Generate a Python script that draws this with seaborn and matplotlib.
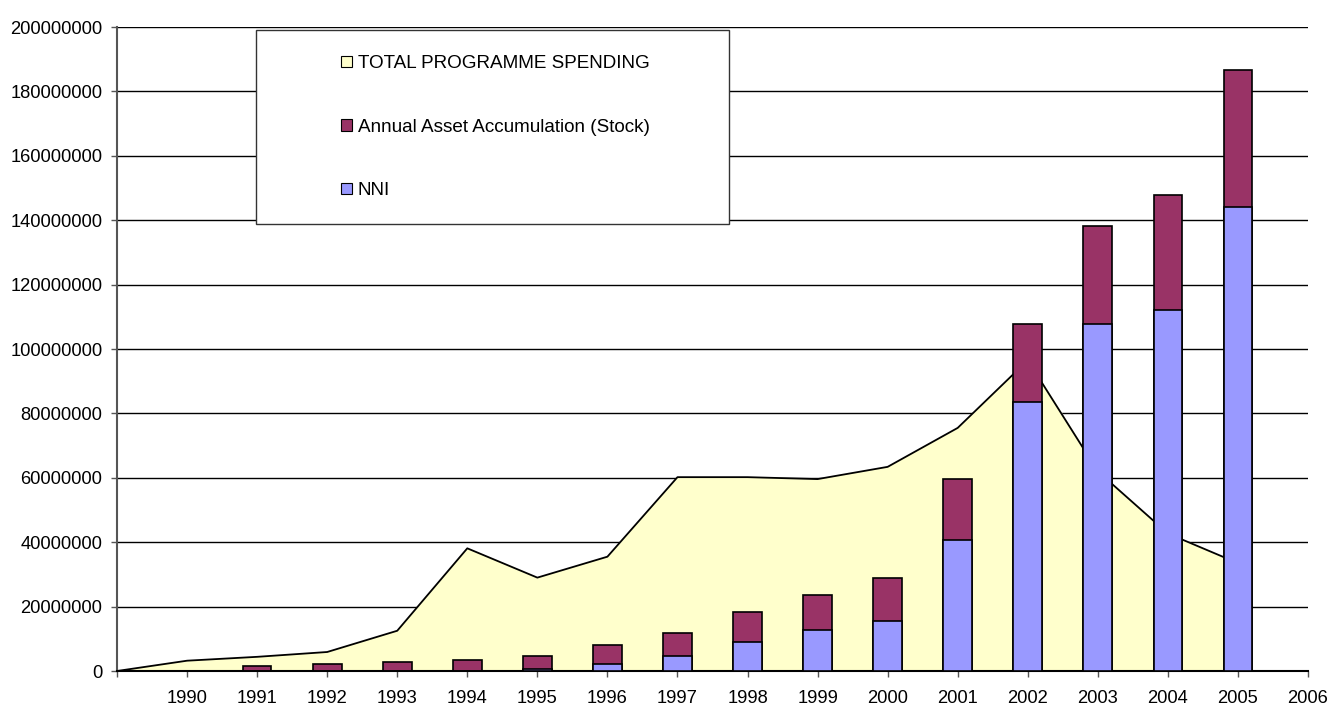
import numpy as np
import pandas as pd
import matplotlib
matplotlib.use("Agg")
import matplotlib.pyplot as plt
from matplotlib.patches import Rectangle, Patch
import seaborn as sns

# values
area_years = [1989, 1990, 1991, 1992, 1993, 1994, 1995, 1996, 1997,
              1998, 1999, 2000, 2001, 2002, 2003, 2004, 2005]
total_spending = [0, 3.2e6, 4.4e6, 5.9e6, 12.5e6, 38.1e6, 29.0e6, 35.5e6, 60.2e6,
                  60.2e6, 59.6e6, 63.4e6, 75.5e6, 96.5e6, 62.0e6, 42.7e6, 33.5e6]

bar_years = [1990, 1991, 1992, 1993, 1994, 1995, 1996, 1997,
             1998, 1999, 2000, 2001, 2002, 2003, 2004, 2005]
nni = [0, 0, 0, 0, 0, 0.6e6, 2.1e6, 4.8e6,
       9.0e6, 12.8e6, 15.6e6, 40.7e6, 83.6e6, 107.8e6, 112.0e6, 144.2e6]
stock = [0, 1.6e6, 2.3e6, 2.8e6, 3.3e6, 4.2e6, 6.0e6, 7.0e6,
         9.3e6, 10.9e6, 13.4e6, 18.9e6, 24.2e6, 30.5e6, 35.9e6, 42.4e6]

tick_years = list(range(1989, 2007))

yellow = "#FFFFCC"
maroon = "#993366"
blue = "#9999FF"

bars = pd.DataFrame({"year": bar_years, "NNI": nni, "Stock": stock})
bars["top"] = bars["NNI"] + bars["Stock"]

sns.set_style("white")
plt.rcParams["font.family"] = ["Liberation Sans", "DejaVu Sans"]
plt.rcParams["text.color"] = "black"
plt.rcParams["xtick.color"] = "black"
plt.rcParams["ytick.color"] = "black"

fig = plt.figure(figsize=(13.32, 7.10), dpi=100)
ax = fig.add_axes([117 / 1332, 1 - 671 / 710, (1308 - 117) / 1332, (671 - 27) / 710])

# gridlines behind everything
ax.set_axisbelow(True)
ax.yaxis.grid(True, color="black", linewidth=1.0)

# programme spending area
ax.fill_between(area_years, total_spending, color=yellow, zorder=1)
sns.lineplot(x=area_years, y=total_spending, color="black", linewidth=1.3,
             ax=ax, zorder=2)

# stacked bars: draw the full stack, then NNI on top of it
sns.barplot(data=bars, x="year", y="top", native_scale=True, width=0.41,
            color=maroon, saturation=1, edgecolor="black", linewidth=1.2,
            ax=ax, zorder=3)
sns.barplot(data=bars, x="year", y="NNI", native_scale=True, width=0.41,
            color=blue, saturation=1, edgecolor="black", linewidth=1.2,
            ax=ax, zorder=4)

ax.set_xlim(1989, 2006)
ax.set_ylim(0, 200e6)
ax.set_xticks(tick_years)
ax.set_xticklabels([""] + [str(y) for y in tick_years[1:]])
yt = np.arange(0, 200e6 + 1, 20e6)
ax.set_yticks(yt)
ax.set_yticklabels([str(int(v)) for v in yt])
ax.set_xlabel("")
ax.set_ylabel("")

ax.tick_params(axis="both", direction="out", length=4.5, width=1, color="#555555",
               labelsize=13.2, labelcolor="black", pad=6)
ax.tick_params(axis="x", pad=9)
ax.tick_params(bottom=True, left=True)
for side in ["top", "right"]:
    ax.spines[side].set_visible(False)
ax.spines["left"].set_color("#555555")
ax.spines["left"].set_linewidth(1.5)
ax.spines["bottom"].set_color("black")
ax.spines["bottom"].set_linewidth(1.5)

# legend box
box = Rectangle((256 / 1332, 1 - 224 / 710), (729 - 256) / 1332, (224 - 30) / 710,
                transform=fig.transFigure, facecolor="white", edgecolor="#333333",
                linewidth=1.0, zorder=10)
fig.patches.append(box)
handles = [Patch(facecolor=yellow, edgecolor="black", linewidth=0.8),
           Patch(facecolor=maroon, edgecolor="black", linewidth=0.8),
           Patch(facecolor=blue, edgecolor="black", linewidth=0.8)]
labels = ["TOTAL PROGRAMME SPENDING", "Annual Asset Accumulation (Stock)", "NNI"]
leg = fig.legend(handles, labels, loc="upper left",
                 bbox_to_anchor=(332 / 1332, 1 - 46 / 710), frameon=False,
                 fontsize=13.6, handlelength=0.55, handleheight=0.55,
                 handletextpad=0.3, labelspacing=2.45, borderpad=0)
leg.set_zorder(11)

fig.savefig("out.png", dpi=100)
